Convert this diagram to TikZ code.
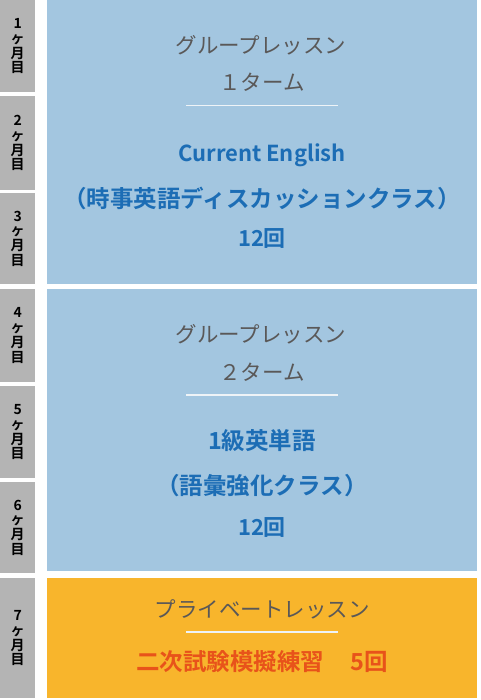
\documentclass[tikz,border=0pt]{standalone}
\usepackage{fontspec}
\setmainfont{Noto Sans CJK JP}[BoldFont={Noto Sans CJK JP Bold}]
\definecolor{grayb}{HTML}{B4B4B4}
\definecolor{blueb}{HTML}{A3C6E0}
\definecolor{orangeb}{HTML}{F8B52C}
\definecolor{bluet}{HTML}{1C6DB5}
\definecolor{grayt}{HTML}{5A5858}
\definecolor{redt}{HTML}{E8531A}
\definecolor{rulec}{HTML}{EEF3F7}
\begin{document}
\begin{tikzpicture}[x=1pt,y=-1pt,
  month/.style={fill=grayb, inner sep=0pt, anchor=north west, minimum width=35pt,
    text width=35pt, align=center, text=black,
    font=\bfseries\fontsize{14}{14.8}\selectfont},
  panel/.style={inner sep=0pt, anchor=north west, minimum width=430pt},
  head/.style={text=grayt, inner sep=0pt, font=\fontsize{21.5}{24}\selectfont},
  course/.style={text=bluet, inner sep=0pt, font=\bfseries\fontsize{22}{26}\selectfont},
  coursejp/.style={course, font=\bfseries\fontsize{23.5}{26}\selectfont},
  sep/.style={draw=rulec, line width=1.2pt}]
\useasboundingbox (0,0) rectangle (480,700);
% month column
\node[month, minimum height=92pt] (m1) at (0,0) {1\\ヶ\\月\\目};
\node[month, minimum height=94pt] (m2) at (0,96) {2\\ヶ\\月\\目};
\node[month, minimum height=91pt] (m3) at (0,193) {3\\ヶ\\月\\目};
\node[month, minimum height=93pt] (m4) at (0,289) {4\\ヶ\\月\\目};
\node[month, minimum height=92pt] (m5) at (0,386) {5\\ヶ\\月\\目};
\node[month, minimum height=91pt] (m6) at (0,482) {6\\ヶ\\月\\目};
\node[month, minimum height=120pt] (m7) at (0,578) {7\\ヶ\\月\\目};
% panels
\node[panel, fill=blueb, minimum height=284pt] (p1) at (47,0) {};
\node[panel, fill=blueb, minimum height=282pt] (p2) at (47,289) {};
\node[panel, fill=orangeb, minimum height=120pt] (p3) at (47,578) {};
% panel 1
\node[head] (h1a) at (261,45) {グループレッスン};
\node[head] (h1b) at (262,82) {１ターム};
\coordinate (l1a) at (186,105.5);
\coordinate (l1b) at (338,105.5);
\draw[sep] (l1a) -- (l1b);
\node[course] (c1a) at (262,155) {Current English};
\node[coursejp] (c1b) at (262,198) {（時事英語ディスカッションクラス）};
\node[course] (c1c) at (262,239) {12回};
% panel 2
\node[head] (h2a) at (261,334) {グループレッスン};
\node[head] (h2b) at (262,372) {２ターム};
\coordinate (l2a) at (186,395);
\coordinate (l2b) at (338,395);
\draw[sep] (l2a) -- (l2b);
\node[coursejp] (c2a) at (262,441) {1級英単語};
\node[coursejp] (c2b) at (262,486) {（語彙強化クラス）};
\node[course] (c2c) at (262,527) {12回};
% panel 3
\node[head] (h3a) at (262,609) {プライベートレッスン};
\coordinate (l3a) at (186,632);
\coordinate (l3b) at (338,632);
\draw[sep] (l3a) -- (l3b);
\node[course, text=redt, font=\bfseries\fontsize{23.5}{26}\selectfont] (c3a) at (262,662) {二次試験模擬練習\hspace{1.1em}5回};
\end{tikzpicture}
\end{document}
